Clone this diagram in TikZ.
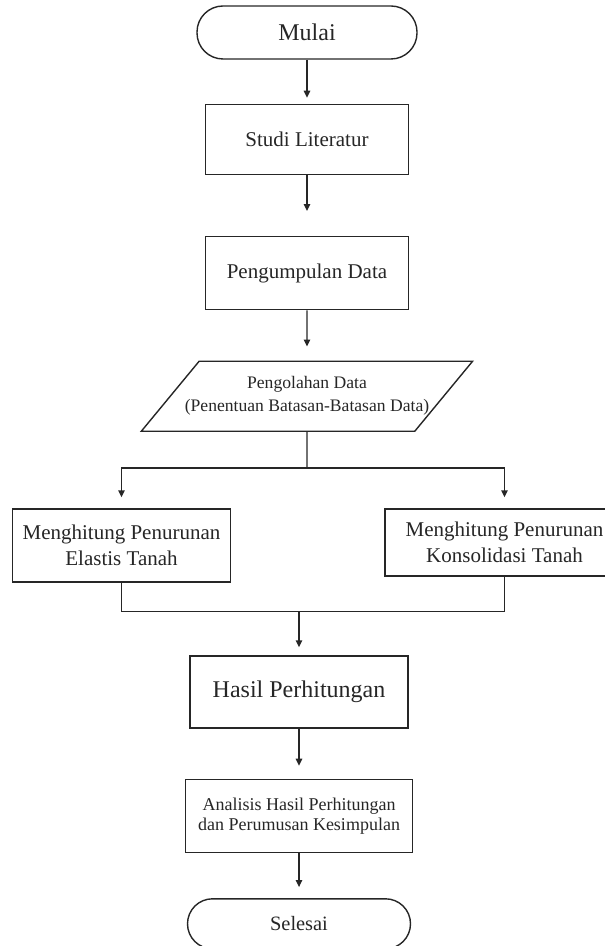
\documentclass[tikz,border=0pt]{standalone}
\usepackage{fontspec}
\setmainfont{Liberation Serif}
\usetikzlibrary{arrows.meta,positioning,shapes.geometric}

\begin{document}
\begin{tikzpicture}[
  x=0.5pt,y=0.5pt,
  color=black!85,
  line width=0.7pt,
  terminal/.style={draw,rounded corners=13pt,minimum width=110pt,minimum height=26.5pt,font=\fontsize{12}{14}\selectfont},
  prosesbox/.style={draw,minimum width=101.5pt,minimum height=35pt,align=center,font=\fontsize{10.5}{13}\selectfont},
  iobox/.style={draw,trapezium,trapezium left angle=46,trapezium right angle=134,trapezium stretches=true,
    minimum width=166pt,minimum height=35pt,inner xsep=-14pt,align=center,font=\fontsize{8.8}{11.5}\selectfont},
  alur/.style={-{Triangle[length=3.5pt,width=3.2pt]}},
]
  \useasboundingbox (0,0) rectangle (604,-946);

  \node[terminal] (mulai) at (307,-32.5) {Mulai};
  \node[prosesbox,below=22pt of mulai] (studi) {Studi Literatur};
  \node[prosesbox,below=30.5pt of studi,minimum height=36.5pt] (kumpul) {Pengumpulan Data};
  \node[iobox,below=25pt of kumpul] (olah) {Pengolahan Data\\(Penentuan Batasan-Batasan Data)};

  \node[prosesbox,minimum width=109pt,minimum height=36.5pt] (elastis) at (121.5,-545.5) {Menghitung Penurunan\\Elastis Tanah};
  \node[prosesbox,minimum width=119.5pt,minimum height=33.5pt] (konsol) at (504.5,-542.5) {Menghitung Penurunan\\Konsolidasi Tanah};

  \node[prosesbox,minimum width=109pt,minimum height=36pt,font=\fontsize{12}{14}\selectfont] (hasil) at (299,-692) {Hasil Perhitungan};
  \node[prosesbox,below=25pt of hasil,minimum width=113.5pt,minimum height=36.5pt,font=\fontsize{9}{10.2}\selectfont] (analisis) {Analisis Hasil Perhitungan\\dan Perumusan Kesimpulan};
  \node[terminal,below=22.5pt of analisis,minimum width=111.5pt,minimum height=25pt,rounded corners=12.5pt,font=\fontsize{10.2}{12}\selectfont] (selesai) {Selesai};

  \coordinate[below=18pt of olah] (cabang);
  \coordinate[above=22pt of hasil] (gabung);

  \draw[alur,shorten >=3pt] (mulai) -- (studi);
  \draw[alur,shorten >=12.5pt] (studi) -- (kumpul);
  \draw[alur,shorten >=7pt] (kumpul) -- (olah);
  \draw (olah) -- (cabang);
  \draw[alur,shorten >=5.5pt] (cabang) -| (elastis);
  \draw[alur,shorten >=5.5pt] (cabang) -| (konsol);
  \draw (elastis) |- (gabung);
  \draw (konsol) |- (gabung);
  \draw[alur,shorten >=4pt] (gabung) -- (hasil);
  \draw[alur,shorten >=6.5pt] (hasil) -- (analisis);
  \draw[alur,shorten >=5.5pt] (analisis) -- (selesai);
\end{tikzpicture}
\end{document}
